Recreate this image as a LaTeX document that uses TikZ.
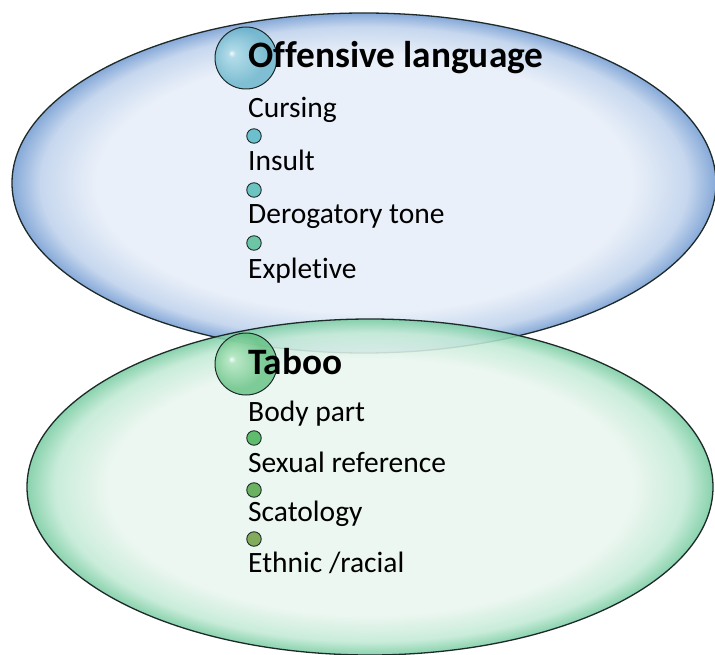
\documentclass[tikz,border=0pt]{standalone}
\usepackage{fontspec}
\setmainfont[Ligatures={NoCommon}]{Carlito}
\usetikzlibrary{shapes.geometric}
\definecolor{bc1}{HTML}{EAF0F9}
\definecolor{bc2}{HTML}{C6D7EE}
\definecolor{bc3}{HTML}{86A9D8}
\definecolor{gc1}{HTML}{EBF6F0}
\definecolor{gc2}{HTML}{C2EAD5}
\definecolor{gc3}{HTML}{7ACDA3}
\definecolor{sb1}{HTML}{A8DAE6}
\definecolor{sb2}{HTML}{66B3CA}
\definecolor{sg1}{HTML}{B0E6BE}
\definecolor{sg2}{HTML}{62C081}
\definecolor{outl}{HTML}{1E2A2A}
\definecolor{bu1}{HTML}{6CC0CE}
\definecolor{bu2}{HTML}{6CC4C0}
\definecolor{bu3}{HTML}{6CC6A6}
\definecolor{bu4}{HTML}{5EBC6C}
\definecolor{bu5}{HTML}{6BB260}
\definecolor{bu6}{HTML}{82AC5C}
\pgfdeclareradialshading{blueglass}{\pgfpoint{0bp}{0bp}}{color(0bp)=(bc1); color(19bp)=(bc1); color(23bp)=(bc2); color(25bp)=(bc3); color(50bp)=(bc3)}
\pgfdeclareradialshading{greenglass}{\pgfpoint{0bp}{0bp}}{color(0bp)=(gc1); color(19bp)=(gc1); color(23bp)=(gc2); color(25bp)=(gc3); color(50bp)=(gc3)}
\pgfdeclareradialshading{sphereblue}{\pgfpoint{-12bp}{4bp}}{color(0bp)=(white); color(3bp)=(sb1); color(22bp)=(sb2); color(50bp)=(sb2)}
\pgfdeclareradialshading{spheregreen}{\pgfpoint{-12bp}{4bp}}{color(0bp)=(white); color(3bp)=(sg1); color(22bp)=(sg2); color(50bp)=(sg2)}
\tikzset{
  bigoval/.style={ellipse, draw=outl, line width=1.3pt, inner sep=0pt},
  sphere/.style={circle, draw=outl, line width=1pt, minimum size=62pt, inner sep=0pt, fill opacity=0.8},
  bulletdot/.style={circle, draw=outl, line width=0.9pt, minimum size=14.5pt, inner sep=0pt},
  titletext/.style={anchor=base west, inner sep=0pt, font=\fontsize{37.3}{40}\selectfont\bfseries},
  itemtext/.style={anchor=base west, inner sep=0pt, font=\fontsize{29.5}{34}\selectfont},
}
\begin{document}
\begin{tikzpicture}[x=1pt,y=-1pt]
\useasboundingbox (0,0) rectangle (715,655);
\fill[white] (0,0) rectangle (715,655);
% top ellipse
\node[bigoval, shading=blueglass, minimum width=704pt, minimum height=340pt] (blue) at (364,183) {};
% bottom ellipse
\node[bigoval, shading=greenglass, fill opacity=0.88, minimum width=686pt, minimum height=336pt] (green) at (370,487) {};
% spheres
\node[sphere, shading=sphereblue] (s1) at (246,58) {};
\node[sphere, shading=spheregreen] (s2) at (246,364) {};
% titles
\node[titletext] (t1) at (248,68) {Offensive language};
\node[titletext] (t2) at (248,374) {Taboo};
% items top
\node[itemtext] (a1) at (248,118) {Cursing};
\node[bulletdot, fill=bu1] (b1) at (254,136) {};
\node[itemtext] (a2) at (248,171) {Insult};
\node[bulletdot, fill=bu2] (b2) at (254,190) {};
\node[itemtext] (a3) at (248,224) {Derogatory tone};
\node[bulletdot, fill=bu3] (b3) at (254,243) {};
\node[itemtext] (a4) at (248,278) {Expletive};
% items bottom
\node[itemtext] (c1) at (248,421) {Body part};
\node[bulletdot, fill=bu4] (d1) at (254,438) {};
\node[itemtext] (c2) at (248,472) {Sexual reference};
\node[bulletdot, fill=bu5] (d2) at (254,490) {};
\node[itemtext] (c3) at (248,521) {Scatology};
\node[bulletdot, fill=bu6] (d3) at (254,539) {};
\node[itemtext] (c4) at (248,572) {Ethnic /racial};
\end{tikzpicture}
\end{document}
